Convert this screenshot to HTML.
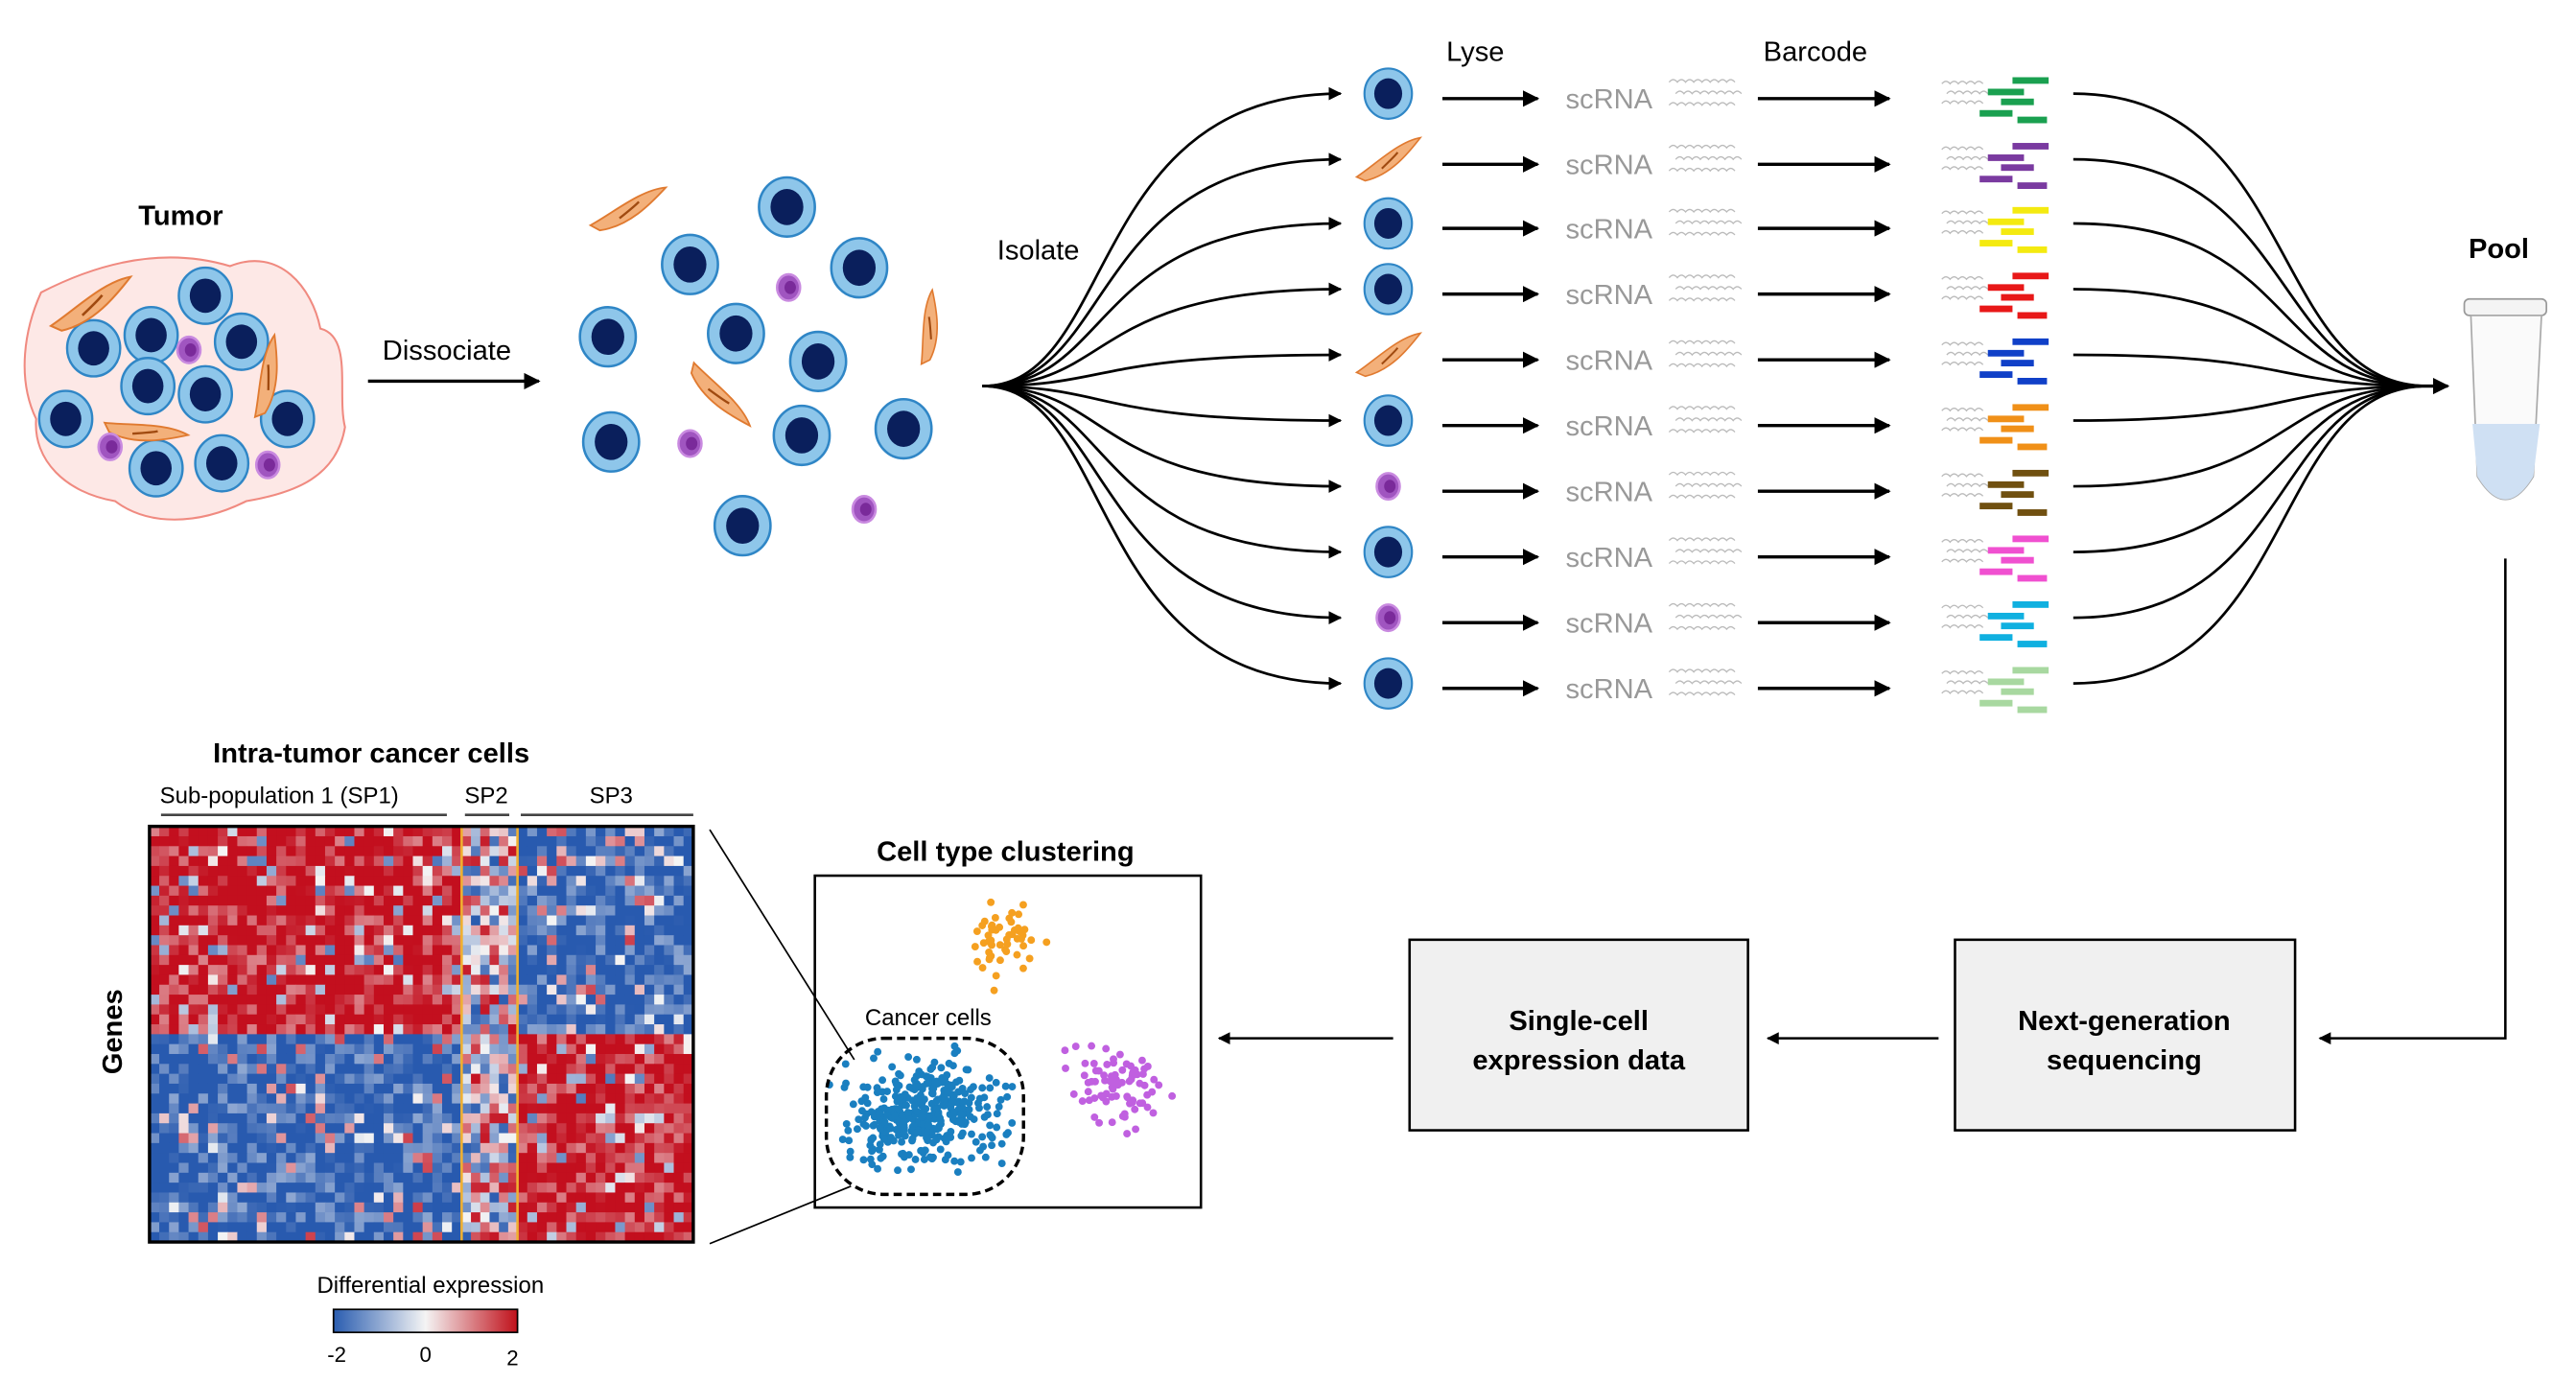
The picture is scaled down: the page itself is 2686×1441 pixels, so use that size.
<!DOCTYPE html>
<html><head><meta charset="utf-8">
<style>
html,body{margin:0;padding:0;background:#fff;}
svg{display:block;font-family:"Liberation Sans",Arial,sans-serif;}
</style></head>
<body>
<svg id="s" width="2686" height="1441" viewBox="0 0 1568 841.2" xmlns="http://www.w3.org/2000/svg">
<defs>
<marker id="ah" viewBox="0 0 10 10" refX="9" refY="5" markerWidth="5" markerHeight="5" orient="auto"><path d="M0,0L10,5L0,10z" fill="#000"/></marker>
<g id="cell"><ellipse rx="17" ry="18" fill="#8ec6ea" stroke="#2f86c6" stroke-width="1.5"/><ellipse rx="10" ry="11" fill="#0a1f5c"/></g>
<g id="fib"><path d="M-26,9 C-10,2 10,-12 27,-12 C16,-2 0,12 -20,13 Z" fill="#f3b07a" stroke="#e07a30" stroke-width="1.2"/><path d="M-6,6 C0,2 6,-2 8,-4" stroke="#a04a10" stroke-width="1.5" fill="none"/></g>
<g id="imm"><ellipse rx="7" ry="8" fill="#a055c0" stroke="#c98ae0" stroke-width="1.5"/><ellipse rx="3.5" ry="4" cx="1" fill="#7a2a9a"/></g>
</defs>

<text x="110" y="137" font-size="17" font-weight="bold" text-anchor="middle">Tumor</text>
<path d="M25,178 C60,160 100,150 140,162 C170,150 190,175 195,200 C215,205 205,240 210,260 C205,290 180,300 150,305 C120,320 90,320 70,305 C40,300 20,280 22,255 C10,230 15,200 25,178Z" fill="#fde8e6" stroke="#f08a80" stroke-width="1.2"/>
<g id="tumorcells"></g>
<text x="272" y="219" font-size="17" text-anchor="middle">Dissociate</text>
<line x1="224" y1="232" x2="328" y2="232" stroke="#000" stroke-width="2" marker-end="url(#ah)"/>
<g id="dcells"></g>

<text x="632" y="158" font-size="17" text-anchor="middle">Isolate</text>
<text x="898" y="37" font-size="17" text-anchor="middle">Lyse</text>
<text x="1105" y="37" font-size="17" text-anchor="middle">Barcode</text>
<text x="1521" y="157" font-size="17" font-weight="bold" text-anchor="middle">Pool</text>
<g id="rows"></g>

<rect x="1500" y="182" width="50" height="10" rx="3" fill="#f4f4f4" stroke="#999"/>
<path d="M1504,192 L1547,192 L1542,290 Q1525,318 1508,290 Z" fill="#fafafa" stroke="#aaa"/>
<path d="M1505,258 L1546,258 L1542,290 Q1525,318 1508,290 Z" fill="#cfe0f3"/>

<polyline points="1525,340 1525,632 1412,632" fill="none" stroke="#000" stroke-width="1.5" marker-end="url(#ah)"/>
<rect x="1190" y="572" width="207" height="116" fill="#f0f0f0" stroke="#000" stroke-width="1.5"/>
<text x="1293" y="627" font-size="17" font-weight="bold" text-anchor="middle">Next-generation</text>
<text x="1293" y="651" font-size="17" font-weight="bold" text-anchor="middle">sequencing</text>
<line x1="1180" y1="632" x2="1076" y2="632" stroke="#000" stroke-width="1.5" marker-end="url(#ah)"/>
<rect x="858" y="572" width="206" height="116" fill="#f0f0f0" stroke="#000" stroke-width="1.5"/>
<text x="961" y="627" font-size="17" font-weight="bold" text-anchor="middle">Single-cell</text>
<text x="961" y="651" font-size="17" font-weight="bold" text-anchor="middle">expression data</text>
<line x1="848" y1="632" x2="742" y2="632" stroke="#000" stroke-width="1.5" marker-end="url(#ah)"/>

<text x="612" y="524" font-size="17" font-weight="bold" text-anchor="middle">Cell type clustering</text>
<rect x="496" y="533" width="235" height="202" fill="#fff" stroke="#000" stroke-width="1.5"/>
<text x="565" y="624" font-size="14" text-anchor="middle">Cancer cells</text>
<g id="pts"></g>
<rect x="503" y="632" width="120" height="95" rx="35" fill="none" stroke="#000" stroke-width="2" stroke-dasharray="5,3"/>

<line x1="432" y1="505" x2="520" y2="645" stroke="#000" stroke-width="1"/>
<line x1="432" y1="757" x2="518" y2="722" stroke="#000" stroke-width="1"/>

<text x="226" y="464" font-size="17" font-weight="bold" text-anchor="middle">Intra-tumor cancer cells</text>
<text x="170" y="489" font-size="14" text-anchor="middle">Sub-population 1 (SP1)</text>
<text x="296" y="489" font-size="14" text-anchor="middle">SP2</text>
<text x="372" y="489" font-size="14" text-anchor="middle">SP3</text>
<line x1="98" y1="496" x2="272" y2="496" stroke="#444" stroke-width="1.5"/>
<line x1="283" y1="496" x2="310" y2="496" stroke="#444" stroke-width="1.5"/>
<line x1="317" y1="496" x2="422" y2="496" stroke="#444" stroke-width="1.5"/>
<g id="hm"></g>
<line x1="281" y1="503" x2="281" y2="756" stroke="#f0b030" stroke-width="1.5"/>
<line x1="315" y1="503" x2="315" y2="756" stroke="#f0b030" stroke-width="1.5"/>
<rect x="91" y="503" width="331" height="253" fill="none" stroke="#000" stroke-width="2"/>
<text transform="translate(74,628) rotate(-90)" font-size="17" font-weight="bold" text-anchor="middle">Genes</text>

<text x="262" y="787" font-size="14" text-anchor="middle">Differential expression</text>
<linearGradient id="lg"><stop offset="0" stop-color="#2a5db0"/><stop offset="0.5" stop-color="#f4f4f4"/><stop offset="1" stop-color="#c0101a"/></linearGradient>
<rect x="203" y="797" width="112" height="14" fill="url(#lg)" stroke="#000"/>
<text x="205" y="829" font-size="13" text-anchor="middle">-2</text>
<text x="259" y="829" font-size="13" text-anchor="middle">0</text>
<text x="312" y="831" font-size="13" text-anchor="middle">2</text>
</svg>
<script>
var NS="http://www.w3.org/2000/svg";
function el(p,t,a){var e=document.createElementNS(NS,t);for(var k in a)e.setAttribute(k,a[k]);p.appendChild(e);return e;}
function use(p,id,x,y,r,s){return el(p,"use",{href:"#"+id,transform:"translate("+x+","+y+") rotate("+(r||0)+") scale("+(s||1)+")"});}
var seed=7;function rnd(){seed=(seed*16807)%2147483647;return (seed-1)/2147483646;}
var tc=document.getElementById("tumorcells");
[[125,180],[57,212],[92,204],[147,208],[90,235],[125,240],[175,255],[40,255],[95,285],[135,282]].forEach(function(c){use(tc,"cell",c[0],c[1],0,0.95);});
use(tc,"fib",55,185,-10,1);use(tc,"fib",88,262,30,0.9);use(tc,"fib",162,230,-55,0.9);
use(tc,"imm",115,213);use(tc,"imm",67,272);use(tc,"imm",163,283);
var dc=document.getElementById("dcells");
[[479,126],[420,161],[523,163],[370,205],[448,203],[498,220],[372,269],[488,265],[550,261],[452,320]].forEach(function(c){use(dc,"cell",c[0],c[1],0,1);});
use(dc,"fib",382,127,-5,0.9);use(dc,"fib",438,240,70,0.9);use(dc,"fib",565,200,-60,0.8);
use(dc,"imm",480,175);use(dc,"imm",420,270);use(dc,"imm",526,310);
var rows=document.getElementById("rows");
var ys=[57,97,136,176,216,256,296,336,376,416];
var cols=["#1aa050","#7a3aa0","#f4ea10","#e81818","#1040c8","#f09018","#705010","#f050d0","#10b0e0","#a8d8a0"];
var types=["cell","fib","cell","cell","fib","cell","imm","cell","imm","cell"];
ys.forEach(function(y,i){
 var d="M598,235 C680,235 660,"+y+" 816,"+y;
 el(rows,"path",{d:d,fill:"none",stroke:"#000","stroke-width":1.6,"marker-end":"url(#ah)"});
 var d2="M1262,"+y+" C1400,"+y+" 1380,235 1478,235";
 el(rows,"path",{d:d2,fill:"none",stroke:"#000","stroke-width":1.6});
 use(rows,types[i],845,y,types[i]=="fib"?-10:0,types[i]=="cell"?0.85:(types[i]=="imm"?1:0.8));
 el(rows,"line",{x1:878,y1:y+3,x2:936,y2:y+3,stroke:"#000","stroke-width":2,"marker-end":"url(#ah)"});
 var t=el(rows,"text",{x:953,y:y+9,"font-size":17,fill:"#999"});t.textContent="scRNA";
 for(var k=0;k<3;k++){var yy=y-7+k*7,xx=1016+(k%2)*4,p="M"+xx+","+yy;for(var j=0;j<8;j++)p+=" q2.5,-3 5,0";el(rows,"path",{d:p,fill:"none",stroke:"#bbb","stroke-width":0.8});}
 el(rows,"line",{x1:1070,y1:y+3,x2:1150,y2:y+3,stroke:"#000","stroke-width":2,"marker-end":"url(#ah)"});
 for(var k=0;k<3;k++){var yy=y-6+k*6,p="M"+(1182+(k%2)*3)+","+yy;for(var j=0;j<5;j++)p+=" q2.5,-3 5,0";el(rows,"path",{d:p,fill:"none",stroke:"#bbb","stroke-width":0.8});}
 [[1225,-10,22],[1210,-3,22],[1218,3,20],[1205,10,20],[1228,14,18]].forEach(function(b){el(rows,"rect",{x:b[0],y:y+b[1],width:b[2],height:4,fill:cols[i]});});
});
el(rows,"line",{x1:1470,y1:235,x2:1490,y2:235,stroke:"#000","stroke-width":2,"marker-end":"url(#ah)"});
var hm=document.getElementById("hm");
var nr=42,y0=503,h=253/nr;
function col(v){v=Math.max(-1,Math.min(1,v));var r,g,b;if(v<0){var t=-v;r=245-(245-40)*t;g=245-(245-90)*t;b=245-(245-175)*t;}else{var t=v;r=245-(245-195)*t;g=245-(245-15)*t;b=245-(245-30)*t;}return "rgb("+(r|0)+","+(g|0)+","+(b|0)+")";}
function block(x0,x1,nc,sign){var w=(x1-x0)/nc;for(var r=0;r<nr;r++)for(var c=0;c<nc;c++){var top=r<nr/2?1:-1;var v=sign===0?(rnd()*2-1):(top*sign*(0.5+rnd()*0.9)-(rnd()<0.12?top*sign*1.3:0));el(hm,"rect",{x:x0+c*w,y:y0+r*h,width:w+0.3,height:h+0.3,fill:col(v)});}}
block(91,281,32,1);block(281,315,6,0);block(315,422,18,-1);
var pts=document.getElementById("pts");
function cl(cx,cy,sx,sy,n,c){for(var i=0;i<n;i++){var a=rnd()+rnd()+rnd()-1.5,b=rnd()+rnd()+rnd()-1.5;el(pts,"circle",{cx:cx+a*sx,cy:cy+b*sy,r:2.3,fill:c});}}
cl(610,573,20,22,50,"#f5a020");cl(563,678,45,30,380,"#1a7fc0");cl(680,660,30,28,80,"#c060e0");
</script>
</body></html>
